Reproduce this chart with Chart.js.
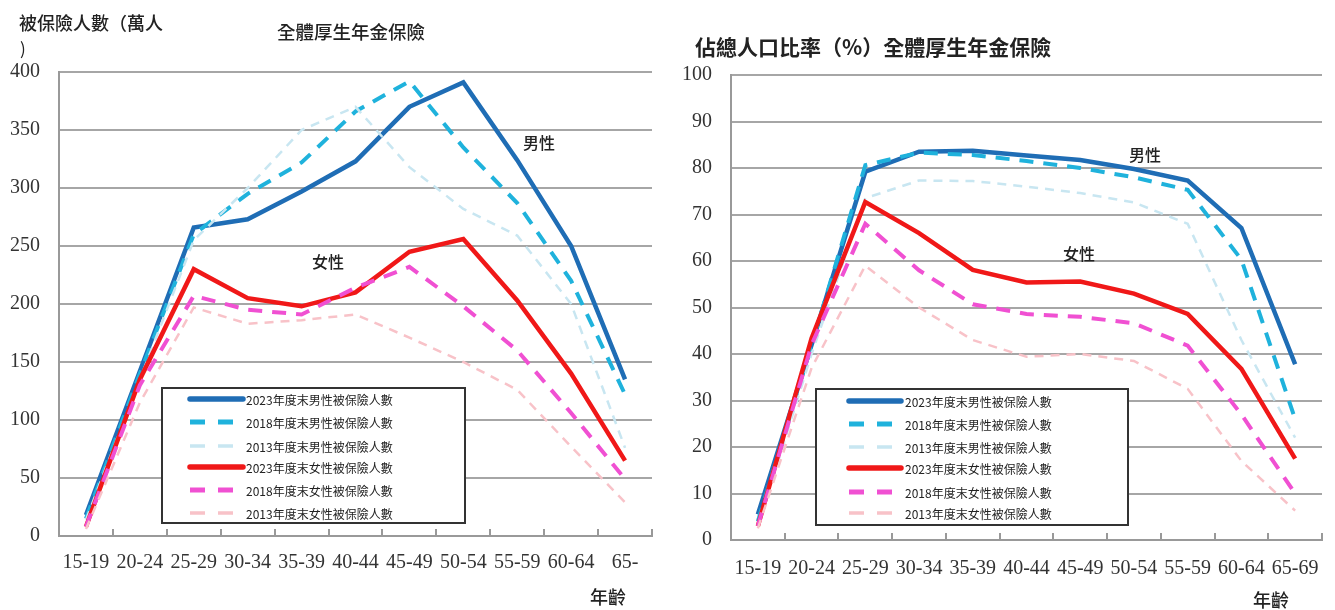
<!DOCTYPE html>
<html lang="zh-Hant">
<head>
<meta charset="UTF-8">
<title>全體厚生年金保險</title>
<script src="https://cdn.jsdelivr.net/npm/chart.js@4.4.1/dist/chart.umd.min.js"></script>
<style>
    html, body { margin: 0; padding: 0; background: #fff; }
    #wrap { position: relative; width: 1335px; height: 610px; overflow: hidden; }
    #countChart { position: absolute; left: 0; top: 0; }
    #ratioChart { position: absolute; left: 665px; top: 0; }
</style>
</head>
<body>
<div id="wrap">
    <canvas id="countChart" width="665" height="610"></canvas>
    <canvas id="ratioChart" width="670" height="610"></canvas>
</div>
<script>
// age groups
const ageLabels = ['15-19', '20-24', '25-29', '30-34', '35-39', '40-44', '45-49', '50-54', '55-59', '60-64', '65-'];
const ageLabelsRatio = ['15-19', '20-24', '25-29', '30-34', '35-39', '40-44', '45-49', '50-54', '55-59', '60-64', '65-69'];

const seriesNames = ['2023年度末男性被保險人數', '2018年度末男性被保險人數', '2013年度末男性被保險人數',
    '2023年度末女性被保險人數', '2018年度末女性被保險人數', '2013年度末女性被保險人數'];

// insured persons, 10k people
const male2023 = [18, 142, 266, 273, 297, 323, 370, 391, 324, 250, 135];
const male2018 = [15, 140, 260, 295, 322, 366, 392, 335, 287, 220, 122];
const male2013 = [14, 135, 255, 300, 350, 370, 318, 282, 259, 200, 76];
const female2023 = [8, 135, 230, 205, 198, 210, 245, 256, 203, 140, 65];
const female2018 = [8, 130, 207, 195, 191, 214, 232, 198, 160, 106, 49];
const female2013 = [6, 115, 197, 183, 186, 191, 171, 150, 126, 77, 29];

// share of population, %
const male2023Ratio = [5.5, 42, 79.2, 83.5, 83.7, 82.7, 81.7, 79.8, 77.3, 67.1, 37.8];
const male2018Ratio = [4, 42, 80.6, 83.3, 82.8, 81.5, 80, 78, 75.3, 60.3, 26];
const male2013Ratio = [3, 40, 73.5, 77.3, 77.2, 76, 74.6, 72.6, 68, 43, 22];
const female2023Ratio = [3, 43.4, 72.7, 66, 58.1, 55.4, 55.6, 53, 48.6, 36.8, 17.5];
const female2018Ratio = [3, 42, 68, 58, 50.7, 48.6, 48, 46.6, 41.8, 27, 10];
const female2013Ratio = [2.5, 37, 59, 50, 43, 39.4, 40, 38.5, 32.5, 17, 6.3];

const countTicks = [0, 50, 100, 150, 200, 250, 300, 350, 400];
const ratioTicks = [0, 10, 20, 30, 40, 50, 60, 70, 80, 90, 100];

const lineStyles = [
    { color: '#1f6db5', width: 4.5, dash: [] },
    { color: '#1fb2dc', width: 4, dash: [14, 10] },
    { color: '#c8e6f1', width: 2.5, dash: [9, 7] },
    { color: '#f01818', width: 4.5, dash: [] },
    { color: '#f050d2', width: 4, dash: [14, 10] },
    { color: '#f8c2c8', width: 2.5, dash: [9, 7] }
];

const cjk = '"Noto Sans CJK TC", "Noto Sans CJK SC", sans-serif';
const serif = '"Liberation Serif", "DejaVu Serif", serif';

function makeDatasets(seriesList) {
    return seriesList.map((values, i) => ({
        label: seriesNames[i],
        data: values,
        borderColor: lineStyles[i].color,
        borderWidth: lineStyles[i].width,
        borderDash: lineStyles[i].dash,
        pointRadius: 0,
        tension: 0,
        fill: false
    })).reverse();
}

// texts, legend box and the little inner tick marks
const decorPlugin = {
    id: 'decor',
    afterDraw(chart, args, opts) {
        const ctx = chart.ctx;
        const xs = chart.scales.x;
        const area = chart.chartArea;
        ctx.save();

        // tick marks between categories, pointing up
        ctx.strokeStyle = '#999';
        ctx.lineWidth = 2;
        const step = (area.right - area.left) / xs.ticks.length;
        for (let i = 1; i <= xs.ticks.length; i++) {
            const x = Math.round(area.left + step * i);
            ctx.beginPath();
            ctx.moveTo(x, area.bottom);
            ctx.lineTo(x, area.bottom - 7);
            ctx.stroke();
        }

        // free texts
        ctx.fillStyle = '#222';
        ctx.textBaseline = 'middle';
        opts.texts.forEach(t => {
            ctx.font = t.font;
            ctx.textAlign = t.align || 'center';
            ctx.fillText(t.text, t.x, t.y);
        });

        // legend
        const lg = opts.legend;
        ctx.fillStyle = '#fff';
        ctx.fillRect(lg.x, lg.y, lg.w, lg.h);
        ctx.strokeStyle = '#333';
        ctx.lineWidth = 2;
        ctx.setLineDash([]);
        ctx.strokeRect(lg.x, lg.y, lg.w, lg.h);
        ctx.font = '12px ' + cjk;
        ctx.textAlign = 'left';
        seriesNames.forEach((name, i) => {
            const y = lg.rows[i];
            const st = lineStyles[i];
            ctx.strokeStyle = st.color;
            ctx.lineWidth = st.width + 1;
            ctx.lineCap = st.dash.length ? 'butt' : 'round';
            ctx.setLineDash(st.dash.length ? [15, 13] : []);
            ctx.beginPath();
            ctx.moveTo(lg.lineX0, y);
            ctx.lineTo(lg.lineX1, y);
            ctx.stroke();
            ctx.setLineDash([]);
            ctx.fillStyle = '#222';
            ctx.fillText(name, lg.textX, y + 1);
        });
        ctx.restore();
    }
};

function makeOptions(yMax, yStep, yWidth, padding, xPad, decor) {
    return {
        responsive: false,
        animation: false,
        devicePixelRatio: 1,
        layout: { padding: padding },
        plugins: {
            legend: { display: false },
            tooltip: { enabled: false },
            decor: decor
        },
        scales: {
            x: {
                offset: true,
                grid: { display: false },
                border: { display: true, color: '#999', width: 2 },
                ticks: {
                    color: '#333', maxRotation: 0, autoSkip: false, padding: xPad,
                    font: { family: serif, size: 20 }
                },
                afterFit: s => { s.height = 40; }
            },
            y: {
                min: 0,
                max: yMax,
                grid: { color: '#a6a6a6', lineWidth: 2, drawTicks: false },
                border: { display: true, color: '#999', width: 2 },
                ticks: {
                    stepSize: yStep, color: '#333', padding: 19,
                    font: { family: serif, size: 20 }
                },
                afterFit: s => { s.width = yWidth; }
            }
        }
    };
}

new Chart(document.getElementById('countChart'), {
    type: 'line',
    data: {
        labels: ageLabels,
        datasets: makeDatasets([male2023, male2018, male2013, female2023, female2018, female2013])
    },
    plugins: [decorPlugin],
    options: makeOptions(countTicks[countTicks.length - 1], countTicks[1] - countTicks[0], 59,
        { top: 72, right: 13, bottom: 34, left: 0 }, 7, {
            texts: [
                { text: '被保險人數（萬人', x: 19, y: 23, align: 'left', font: '500 18px ' + cjk },
                { text: ')', x: 20, y: 49, align: 'left', font: '17px ' + cjk },
                { text: '全體厚生年金保險', x: 351, y: 32, font: '500 18.5px ' + cjk },
                { text: '男性', x: 539, y: 143, font: '500 16px ' + cjk },
                { text: '女性', x: 328, y: 262, font: '500 16px ' + cjk },
                { text: '年齡', x: 608, y: 597, font: '500 18px ' + cjk }
            ],
            legend: {
                x: 162, y: 388, w: 303, h: 135,
                rows: [399, 422, 446, 467, 490, 513],
                lineX0: 190, lineX1: 243, textX: 246
            }
        })
});

new Chart(document.getElementById('ratioChart'), {
    type: 'line',
    data: {
        labels: ageLabelsRatio,
        datasets: makeDatasets([male2023Ratio, male2018Ratio, male2013Ratio, female2023Ratio, female2018Ratio, female2013Ratio])
    },
    plugins: [decorPlugin],
    options: makeOptions(ratioTicks[ratioTicks.length - 1], ratioTicks[1] - ratioTicks[0], 66,
        { top: 75, right: 13, bottom: 30, left: 0 }, 9, {
            texts: [
                { text: '佔總人口比率（%）全體厚生年金保險', x: 30, y: 47, align: 'left', font: 'bold 21px ' + cjk },
                { text: '男性', x: 480, y: 155, font: '500 16px ' + cjk },
                { text: '女性', x: 414, y: 254, font: '500 16px ' + cjk },
                { text: '年齡', x: 606, y: 600, font: '500 18px ' + cjk }
            ],
            legend: {
                x: 151, y: 389, w: 312, h: 136,
                rows: [401, 424, 447, 468, 492, 513],
                lineX0: 184, lineX1: 236, textX: 240
            }
        })
});
</script>
</body>
</html>
